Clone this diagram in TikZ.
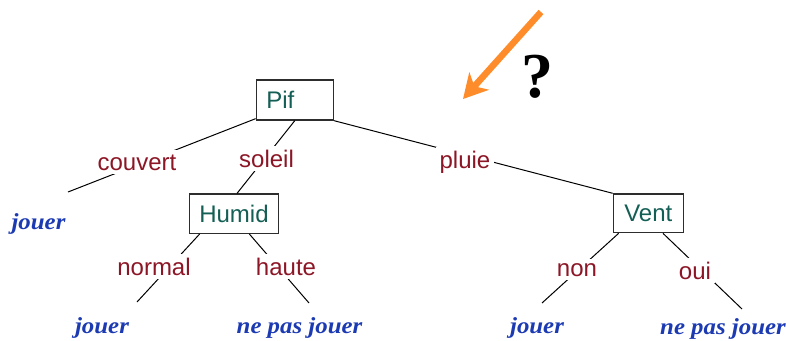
\documentclass[tikz,border=0pt]{standalone}
\usepackage{fontspec}
\setmainfont{Liberation Sans}
\newfontfamily\leaffont[FakeStretch=1.08]{Liberation Serif}
\newfontfamily\qfont{Liberation Serif}
\usetikzlibrary{arrows.meta}
\definecolor{boxtext}{RGB}{20,95,85}
\definecolor{lblred}{RGB}{140,22,38}
\definecolor{leafblue}{RGB}{28,58,178}
\definecolor{arroworange}{RGB}{255,140,42}
\definecolor{boxline}{RGB}{45,45,45}
\tikzset{
  attrbox/.style={draw=boxline, line width=1.3pt, fill=white, text=boxtext,
    font=\fontsize{24}{28}\selectfont, inner sep=0pt},
  edgeline/.style={draw=black, line width=1pt},
  lbl/.style={text=lblred, fill=white, inner sep=4pt, anchor=base,
    font=\fontsize{24}{28}\selectfont},
  leaf/.style={text=leafblue, anchor=base, inner sep=0pt,
    font=\leaffont\bfseries\itshape\fontsize{23}{27}\selectfont},
}
\begin{document}
\begin{tikzpicture}[x=1pt, y=-1pt]
\useasboundingbox (0,0) rectangle (786,340);

% decision boxes
\node[attrbox, minimum width=77pt, minimum height=40pt, inner xsep=10pt,
      text width=57pt, align=left] (pif) at (294.8,100) {Pif};
\node[attrbox, minimum width=89.4pt, minimum height=39.3pt] (humid) at (234,213.7) {Humid};
\node[attrbox, minimum width=70pt, minimum height=38.7pt] (vent) at (648.3,213.3) {Vent};

% free ends of the branches
\coordinate (e1) at (68,192);
\coordinate (e2) at (137,302);
\coordinate (e3) at (309,303);
\coordinate (e4) at (542,303);
\coordinate (e5) at (742,309);

% branches
\draw[edgeline] ([yshift=2pt]pif.south west) -- (e1);
\draw[edgeline] (pif.south) -- ([xshift=3pt]humid.north);
\draw[edgeline] (pif.south east) -- (vent.north west);
\draw[edgeline] ([xshift=11pt]humid.south west) -- (e2);
\draw[edgeline] ([xshift=-30pt]humid.south east) -- (e3);
\draw[edgeline] ([xshift=6pt]vent.south west) -- (e4);
\draw[edgeline] ([xshift=-21pt]vent.south east) -- (e5);

% branch labels
\node[lbl] (couvert) at (137,170) {couvert};
\node[lbl] (soleil) at (266.5,167) {soleil};
\node[lbl] (pluie) at (465,168) {pluie};
\node[lbl] (normal) at (154,275) {normal};
\node[lbl] (haute) at (286,275) {haute};
\node[lbl] (non) at (577,276) {non};
\node[lbl] (oui) at (695,279) {oui};

% leaves
\node[leaf] (l1) at (38.5,229) {jouer};
\node[leaf] (l2) at (102,333) {jouer};
\node[leaf] (l3) at (299.5,333) {ne pas jouer};
\node[leaf] (l4) at (537,333) {jouer};
\node[leaf] (l5) at (723,334) {ne pas jouer};

% arrow and question mark
\coordinate (atail) at (541,12);
\coordinate (atip) at (463,99);
\draw[arroworange, line width=6.5pt,
      -{Stealth[length=24pt, width=26pt, inset=7pt]}] (atail) -- (atip);
\node[anchor=base, inner sep=0pt, font=\qfont\bfseries\fontsize{64}{70}\selectfont]
  (q) at (537,97) {?};
\end{tikzpicture}
\end{document}
